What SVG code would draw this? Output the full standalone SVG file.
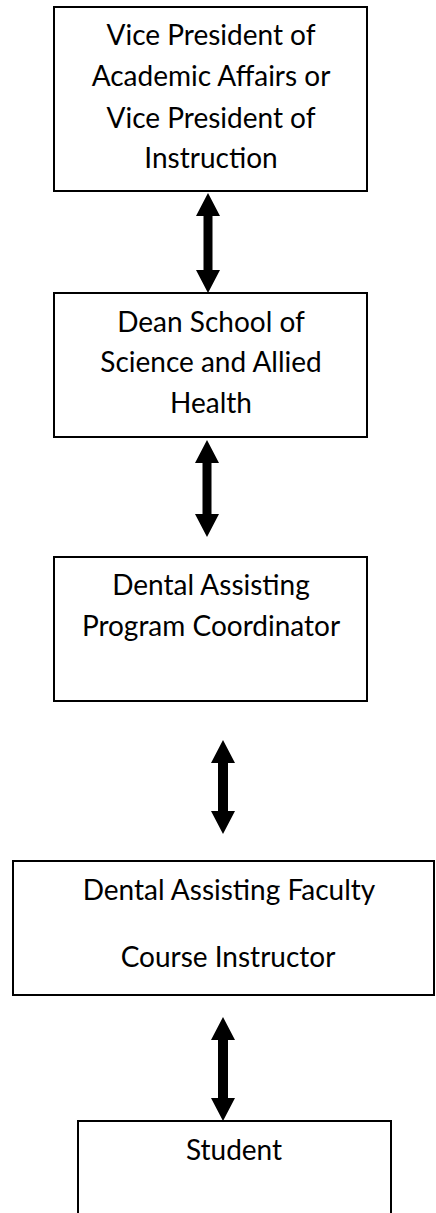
<svg xmlns="http://www.w3.org/2000/svg" width="436" height="1213" viewBox="0 0 436 1213">
  <style>
    .box { fill: #ffffff; stroke: #000000; stroke-width: 2; }
    .label { font-family: "Lato", "Liberation Sans", sans-serif; font-size: 28px; fill: #000000; text-anchor: middle; }
    .arrow { fill: #000000; stroke: none; }
  </style>
  <rect width="436" height="1213" fill="#ffffff"/>

  <g id="vp-academic-affairs">
    <rect class="box" x="54" y="7" width="313" height="184"/>
    <text class="label" x="211" y="45">Vice President of</text>
    <text class="label" x="211" y="86">Academic Affairs or</text>
    <text class="label" x="211" y="128">Vice President of</text>
    <text class="label" x="211" y="168">Instruction</text>
  </g>

  <g id="dean-science-allied-health">
    <rect class="box" x="54" y="293" width="313" height="144"/>
    <text class="label" x="211" y="332">Dean School of</text>
    <text class="label" x="211" y="372">Science and Allied</text>
    <text class="label" x="211" y="413">Health</text>
  </g>

  <g id="program-coordinator">
    <rect class="box" x="54" y="557" width="313" height="144"/>
    <text class="label" x="211" y="595">Dental Assisting</text>
    <text class="label" x="211" y="636">Program Coordinator</text>
  </g>

  <g id="faculty-instructor">
    <rect class="box" x="13" y="861" width="421" height="134"/>
    <text class="label" x="229" y="900">Dental Assisting Faculty</text>
    <text class="label" x="228" y="967">Course Instructor</text>
  </g>

  <g id="student">
    <rect class="box" x="78" y="1121" width="313" height="110"/>
    <text class="label" x="234" y="1160">Student</text>
  </g>

  <!-- double-headed block arrows between levels -->
  <g id="connectors">
    <polygon class="arrow" points="208,193 220,216 212.5,216 212.5,270 220,270 208,293 196,270 203.5,270 203.5,216 196,216"/>
    <polygon class="arrow" points="207,440 219,463 211.5,463 211.5,514 219,514 207,537 195,514 202.5,514 202.5,463 195,463"/>
    <polygon class="arrow" points="223,740 235,763 228,763 228,811 235,811 223,834 211,811 218,811 218,763 211,763"/>
    <polygon class="arrow" points="223,1017 235,1040 228,1040 228,1098 235,1098 223,1121 211,1098 218,1098 218,1040 211,1040"/>
  </g>
</svg>
